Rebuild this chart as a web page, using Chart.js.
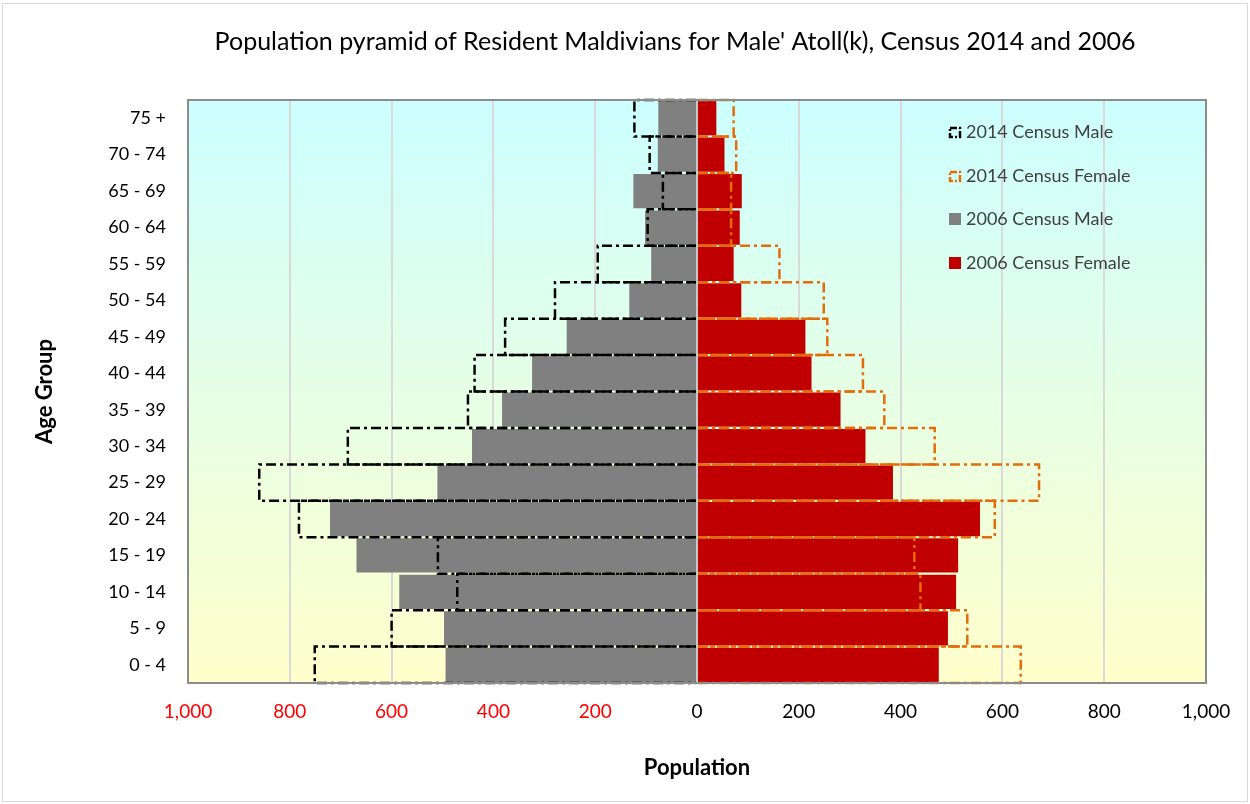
<!DOCTYPE html>
<html>
<head>
<meta charset="utf-8">
<script src="https://cdn.jsdelivr.net/npm/chart.js@4/dist/chart.umd.min.js"></script>
<style>
  html, body { margin: 0; padding: 0; background: #ffffff; }
  #wrap { position: relative; width: 1250px; height: 804px; }
</style>
</head>
<body>
<div id="wrap"><canvas id="c" width="1250" height="804"></canvas></div>
<script>
// ---- data (age groups from youngest to oldest) ----
const ageGroups = ['0 - 4','5 - 9','10 - 14','15 - 19','20 - 24','25 - 29','30 - 34','35 - 39','40 - 44','45 - 49','50 - 54','55 - 59','60 - 64','65 - 69','70 - 74','75 +'];
const male2014   = [751, 600, 471, 509, 782, 860, 686, 450, 437, 377, 279, 195,  97,  67,  93, 123];
const female2014 = [636, 531, 439, 427, 585, 672, 467, 368, 326, 256, 249, 162,  67,  67,  77,  72];
const male2006   = [494, 497, 585, 669, 721, 510, 442, 383, 324, 256, 133,  90, 102, 125,  77,  76];
const female2006 = [475, 493, 509, 513, 556, 385, 331, 282, 225, 213,  87,  72,  84,  88,  54,  38];
const seriesNames = ['2014 Census Male', '2014 Census Female', '2006 Census Male', '2006 Census Female'];
const titleText = "Population pyramid of Resident Maldivians for Male' Atoll(k), Census 2014 and 2006";
const xTitle = 'Population';
const yTitle = 'Age Group';

const FONT = 'Lato, "Open Sans", sans-serif';
const DASH = [10, 4, 3, 4];

// background, frame and plot border
const bgPlugin = {
  id: 'bg',
  beforeDraw(chart) {
    const {ctx, chartArea: a} = chart;
    ctx.save();
    ctx.fillStyle = '#ffffff';
    ctx.fillRect(0, 0, chart.width, chart.height);
    ctx.strokeStyle = '#d9d9d9';
    ctx.lineWidth = 1;
    ctx.strokeRect(2.5, 3.5, 1245, 798);
    const g = ctx.createLinearGradient(0, a.top, 0, a.bottom);
    g.addColorStop(0, '#ccffff');
    g.addColorStop(1, '#ffffcc');
    ctx.fillStyle = g;
    ctx.fillRect(a.left, a.top, a.right - a.left, a.bottom - a.top);
    ctx.restore();
  },
  afterDraw(chart) {
    const {ctx, chartArea: a} = chart;
    ctx.save();
    ctx.strokeStyle = '#8c8c8c';
    ctx.lineWidth = 2;
    ctx.strokeRect(a.left, a.top, a.right - a.left, a.bottom - a.top);
    // title
    ctx.fillStyle = '#000000';
    ctx.font = '25px ' + FONT;
    ctx.textAlign = 'center';
    ctx.textBaseline = 'middle';
    ctx.fillText(titleText, 675, 42);
    ctx.restore();
  }
};

// dashed outlines for the 2014 datasets, drawn from the bar elements
const outlinePlugin = {
  id: 'outline',
  afterDatasetsDraw(chart) {
    const {ctx} = chart;
    chart.data.datasets.forEach((ds, i) => {
      if (!ds.dashOutline) return;
      const meta = chart.getDatasetMeta(i);
      ctx.save();
      ctx.strokeStyle = ds.dashOutline;
      ctx.lineWidth = 2.5;
      ctx.setLineDash(DASH);
      meta.data.forEach(el => {
        const p = el.getProps(['x', 'y', 'base', 'height'], true);
        const top = p.y - p.height / 2, bot = p.y + p.height / 2;
        ctx.beginPath();
        ctx.moveTo(p.base, top);
        ctx.lineTo(p.x, top);
        ctx.lineTo(p.x, bot);
        ctx.lineTo(p.base, bot);
        ctx.stroke();
      });
      ctx.restore();
    });
  }
};

// legend inside the plot area
const legendPlugin = {
  id: 'customLegend',
  afterDraw(chart) {
    const {ctx} = chart;
    const x = 949, ys = [132, 176, 219, 263];
    ctx.save();
    ctx.font = '18px ' + FONT;
    ctx.textBaseline = 'middle';
    ctx.textAlign = 'left';
    chart.data.datasets.forEach((ds, i) => {
      const y = ys[ds.legendOrder];
      if (ds.dashOutline) {
        ctx.strokeStyle = ds.dashOutline;
        ctx.lineWidth = 2.5;
        ctx.setLineDash([7, 2, 2, 2]);
        ctx.strokeRect(x + 1, y - 4, 10, 9);
        ctx.setLineDash([]);
      } else {
        ctx.fillStyle = ds.backgroundColor;
        ctx.fillRect(x, y - 6, 12, 12);
      }
      ctx.fillStyle = '#404040';
      ctx.fillText(ds.label, x + 17, y);
    });
    ctx.restore();
  }
};

const neg = arr => arr.map(v => -v);

new Chart(document.getElementById('c'), {
  type: 'bar',
  data: {
    labels: ageGroups,
    datasets: [
      { label: seriesNames[2], data: neg(male2006), backgroundColor: '#808080', borderWidth: 0,
        barPercentage: 0.94, categoryPercentage: 1, grouped: false, legendOrder: 2, order: 3 },
      { label: seriesNames[3], data: female2006, backgroundColor: '#c00000', borderWidth: 0,
        barPercentage: 0.94, categoryPercentage: 1, grouped: false, legendOrder: 3, order: 2 },
      { label: seriesNames[0], data: neg(male2014), backgroundColor: 'rgba(0,0,0,0)', borderWidth: 0,
        barPercentage: 1, categoryPercentage: 1, grouped: false, dashOutline: '#000000', legendOrder: 0, order: 1 },
      { label: seriesNames[1], data: female2014, backgroundColor: 'rgba(0,0,0,0)', borderWidth: 0,
        barPercentage: 1, categoryPercentage: 1, grouped: false, dashOutline: '#e46c0a', legendOrder: 1, order: 0 }
    ]
  },
  options: {
    indexAxis: 'y',
    responsive: false,
    animation: false,
    layout: { padding: { top: 100, right: 44, left: 0, bottom: 0 } },
    plugins: {
      legend: { display: false },
      title: { display: false },
      tooltip: { enabled: false }
    },
    scales: {
      x: {
        min: -1000, max: 1000,
        border: { display: false },
        grid: {
          color: ctx => ctx.tick && ctx.tick.value === 0 ? '#c8c8c8' : '#d9d9d9',
          lineWidth: 2,
          drawTicks: false
        },
        ticks: {
          stepSize: 200,
          padding: 17,
          font: { family: FONT, size: 19 },
          color: ctx => ctx.tick.value < 0 ? '#ff0000' : '#000000',
          callback: v => Math.abs(v).toLocaleString('en-US'),
          maxRotation: 0
        },
        title: {
          display: true, text: xTitle, color: '#000000',
          font: { family: FONT, size: 22, weight: 'bold' },
          padding: { top: 0, bottom: 23 }
        },
        afterFit: s => { s.height = 121; }
      },
      y: {
        reverse: true,
        border: { display: false },
        grid: { display: false, drawTicks: false },
        ticks: {
          padding: 22,
          font: { family: FONT, size: 18 },
          color: '#000000'
        },
        title: {
          display: true, text: yTitle, color: '#000000',
          font: { family: FONT, size: 22, weight: 'bold' },
          padding: { top: 32, bottom: 0 }
        },
        afterFit: s => { s.width = 188; }
      }
    }
  },
  plugins: [bgPlugin, outlinePlugin, legendPlugin]
});
</script>
</body>
</html>
